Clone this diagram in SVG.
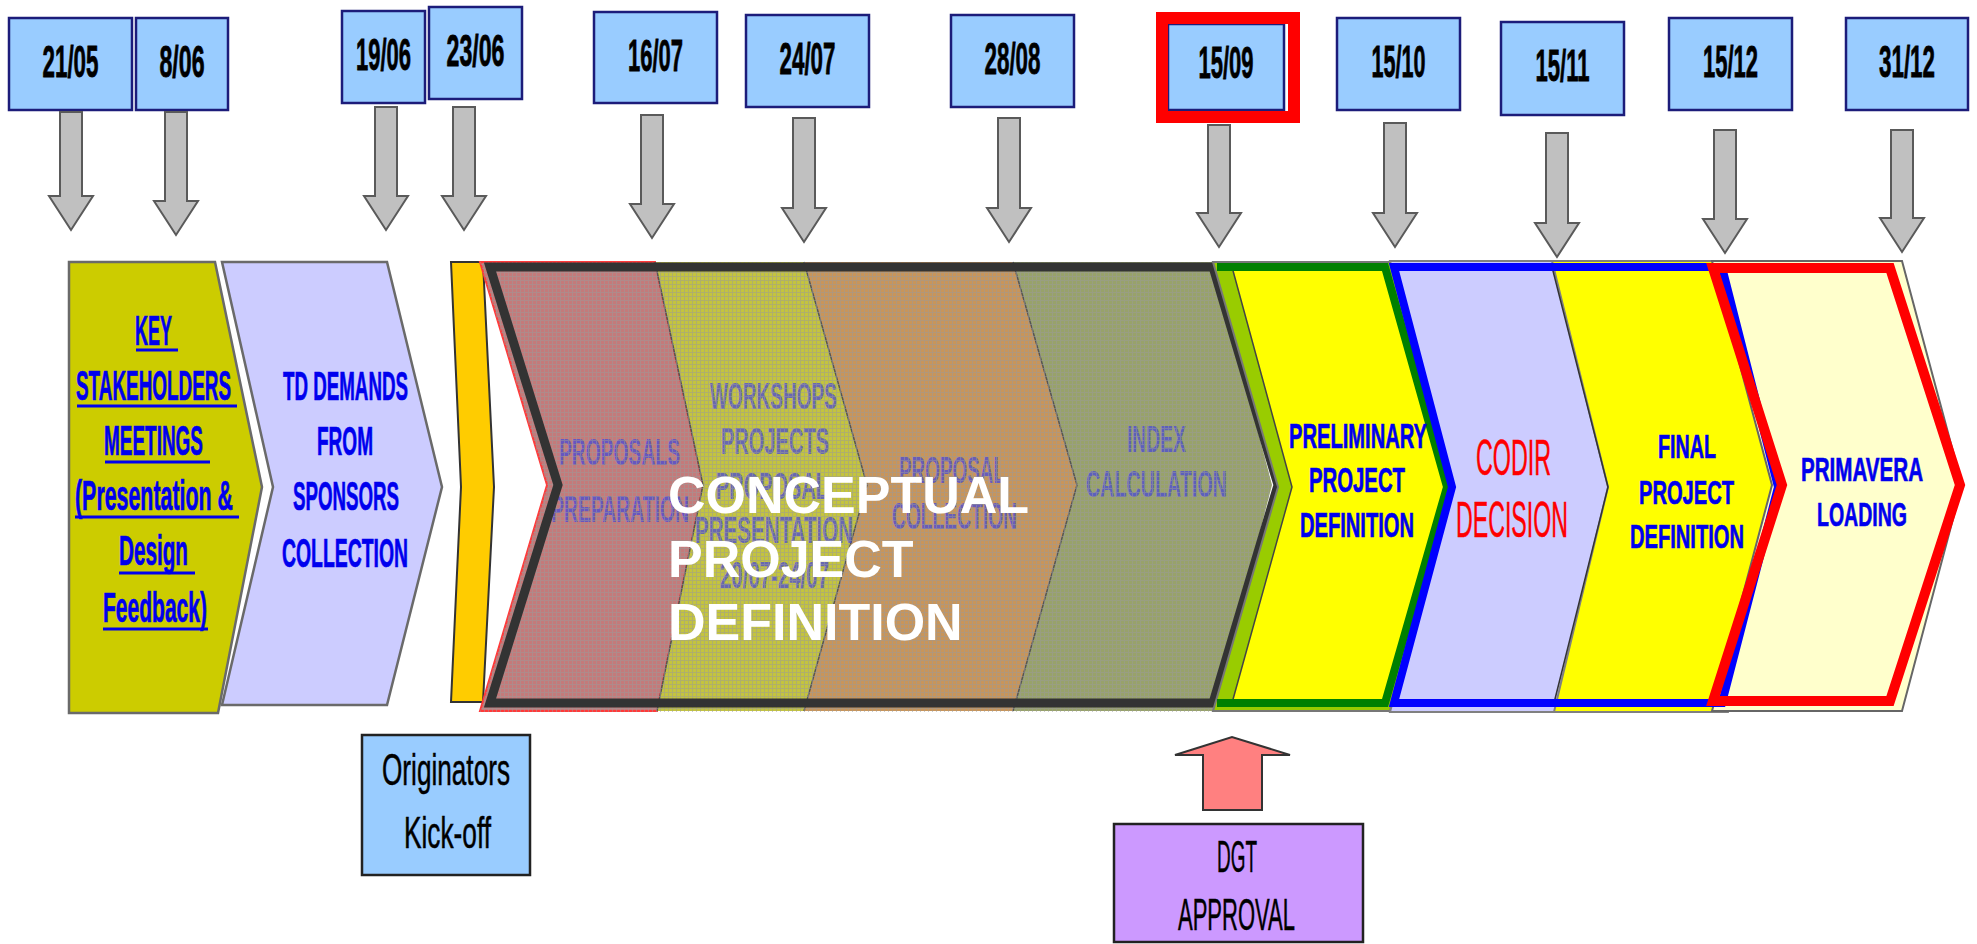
<svg xmlns="http://www.w3.org/2000/svg" width="1977" height="944" viewBox="0 0 1977 944">
  <defs>
    <style>
      .date rect { fill: #99ccff; stroke: #1c1c7a; stroke-width: 2.5; }
      .date text { font-family: "Liberation Sans", Arial, sans-serif; font-weight: bold; font-size: 45px; fill: #000; stroke: #000; stroke-width: 0.8; text-anchor: middle; }
      .blue { font-family: "Liberation Sans", Arial, sans-serif; font-weight: bold; fill: #0000ee; stroke: #0000ee; stroke-width: 0.7; }
      .faded { font-family: "Liberation Sans", Arial, sans-serif; font-weight: bold; font-size: 37px; fill: #4a4ad6; opacity: 0.75; }
      .plain { font-family: "Liberation Sans", Arial, sans-serif; fill: #000; stroke: #000; stroke-width: 0.5; }
      .big { font-family: "Liberation Sans", Arial, sans-serif; font-weight: bold; font-size: 52px; fill: #ffffff; }
      .ul { stroke: #0000ee; stroke-width: 3; }
      .garrow { fill: #c0c0c0; stroke: #5a5a5a; stroke-width: 2; stroke-linejoin: miter; }
      .edge { stroke: #555; stroke-width: 1.5; fill: none; }
    </style>
    <pattern id="grid" width="4" height="4" patternUnits="userSpaceOnUse">
      <path d="M0 0.5H4M0.5 0V4" stroke="#9a9a9a" stroke-width="1" opacity="0.5"/>
    </pattern>
    <clipPath id="cpdClip">
      <polygon points="480,262 1213,262 1272,485 1213,712 480,712 547,485"/>
    </clipPath>
  </defs>

  <rect width="1977" height="944" fill="#ffffff"/>

  <!-- milestone date boxes -->
  <g id="d2105" class="date"><rect x="9" y="18" width="123" height="92"/><text x="70.5" y="77" textLength="56" lengthAdjust="spacingAndGlyphs">21/05</text></g>
  <g id="d0806" class="date"><rect x="136" y="18" width="92" height="92"/><text x="182" y="77" textLength="45" lengthAdjust="spacingAndGlyphs">8/06</text></g>
  <g id="d1906" class="date"><rect x="342" y="11" width="83" height="92"/><text x="383.5" y="70" textLength="55" lengthAdjust="spacingAndGlyphs">19/06</text></g>
  <g id="d2306" class="date"><rect x="429" y="7" width="93" height="92"/><text x="475.5" y="66" textLength="58" lengthAdjust="spacingAndGlyphs">23/06</text></g>
  <g id="d1607" class="date"><rect x="594" y="12" width="123" height="91"/><text x="655.5" y="71" textLength="55" lengthAdjust="spacingAndGlyphs">16/07</text></g>
  <g id="d2407" class="date"><rect x="746" y="15" width="123" height="92"/><text x="807.5" y="74" textLength="56" lengthAdjust="spacingAndGlyphs">24/07</text></g>
  <g id="d2808" class="date"><rect x="951" y="15" width="123" height="92"/><text x="1012.5" y="74" textLength="56" lengthAdjust="spacingAndGlyphs">28/08</text></g>
  <g id="d1509" class="date">
    <rect x="1168" y="24" width="116" height="86"/>
    <rect x="1162" y="18" width="132" height="99" style="fill:none;stroke:#ff0000;stroke-width:12"/>
    <text x="1226" y="78" textLength="55" lengthAdjust="spacingAndGlyphs">15/09</text>
  </g>
  <g id="d1510" class="date"><rect x="1337" y="18" width="123" height="92"/><text x="1398.5" y="77" textLength="54" lengthAdjust="spacingAndGlyphs">15/10</text></g>
  <g id="d1511" class="date"><rect x="1501" y="22" width="123" height="93"/><text x="1562.5" y="81" textLength="54" lengthAdjust="spacingAndGlyphs">15/11</text></g>
  <g id="d1512" class="date"><rect x="1669" y="18" width="123" height="92"/><text x="1730.5" y="77" textLength="55" lengthAdjust="spacingAndGlyphs">15/12</text></g>
  <g id="d3112" class="date"><rect x="1846" y="18" width="122" height="92"/><text x="1907" y="77" textLength="56" lengthAdjust="spacingAndGlyphs">31/12</text></g>

  <!-- phase chevrons -->
  <g id="keyStakeholders">
    <polygon points="69,262 215,262 262,487 218,713 69,713" fill="#cccc00" stroke="#6a6a6a" stroke-width="2.5"/>
    <g class="blue" font-size="42">
      <text x="135" y="345" textLength="37" lengthAdjust="spacingAndGlyphs">KEY</text>
      <text x="76" y="400" textLength="155" lengthAdjust="spacingAndGlyphs">STAKEHOLDERS</text>
      <text x="104" y="455" textLength="99" lengthAdjust="spacingAndGlyphs">MEETINGS</text>
      <text x="75" y="510" textLength="158" lengthAdjust="spacingAndGlyphs">(Presentation &amp;</text>
      <text x="119" y="565" textLength="69" lengthAdjust="spacingAndGlyphs">Design</text>
      <text x="103" y="622" textLength="104" lengthAdjust="spacingAndGlyphs">Feedback)</text>
    </g>
    <path class="ul" d="M136 350H178M77 406H237M105 462H210M75 517H239M119 573H195M103 629H208"/>
  </g>

  <g id="tdDemands">
    <polygon points="222,262 387,262 442,487 387,705 222,705 273,487" fill="#ccccff" stroke="#6a6a6a" stroke-width="2.5"/>
    <g class="blue" font-size="40">
      <text x="283" y="400" textLength="125" lengthAdjust="spacingAndGlyphs">TD DEMANDS</text>
      <text x="317" y="455" textLength="56" lengthAdjust="spacingAndGlyphs">FROM</text>
      <text x="293" y="510" textLength="106" lengthAdjust="spacingAndGlyphs">SPONSORS</text>
      <text x="282" y="567" textLength="126" lengthAdjust="spacingAndGlyphs">COLLECTION</text>
    </g>
  </g>

  <g id="kickoffBar">
    <path d="M451 262H483L494 487L483 702H451L461 487Z" fill="#ffcc00" stroke="#333" stroke-width="2"/>
  </g>

  <g id="conceptualDefinition">
    <polygon points="480,262 655,262 703,485 657,711 480,711 547,485" fill="#c47a7a" stroke="#ff3a3a" stroke-width="2"/>
    <polygon points="655,262 804,262 867,485 804,711 657,711 703,485" fill="#c4c43e"/>
    <polygon points="804,262 1013,262 1077,485 1013,711 804,711 867,485" fill="#c8955a"/>
    <polygon points="1013,262 1213,262 1272,485 1213,711 1013,711 1077,485" fill="#98a26a"/>
    <path class="edge" d="M655 262L703 485L657 711M804 262L867 485L804 711M1013 262L1077 485L1013 711"/>
    <g class="faded">
      <text x="559" y="465" textLength="121" lengthAdjust="spacingAndGlyphs">PROPOSALS</text>
      <text x="551" y="522" textLength="138" lengthAdjust="spacingAndGlyphs">PREPARATION</text>
      <text x="710" y="409" textLength="127" lengthAdjust="spacingAndGlyphs">WORKSHOPS</text>
      <text x="721" y="454" textLength="108" lengthAdjust="spacingAndGlyphs">PROJECTS</text>
      <text x="716" y="499" textLength="112" lengthAdjust="spacingAndGlyphs">PROPOSAL</text>
      <text x="695" y="543" textLength="158" lengthAdjust="spacingAndGlyphs">PRESENTATION</text>
      <text x="720" y="588" textLength="109" lengthAdjust="spacingAndGlyphs">20/07-24/07</text>
      <text x="899" y="483" textLength="106" lengthAdjust="spacingAndGlyphs">PROPOSAL</text>
      <text x="892" y="529" textLength="125" lengthAdjust="spacingAndGlyphs">COLLECTION</text>
      <text x="1127" y="452" textLength="59" lengthAdjust="spacingAndGlyphs">INDEX</text>
      <text x="1086" y="497" textLength="141" lengthAdjust="spacingAndGlyphs">CALCULATION</text>
    </g>
    <g clip-path="url(#cpdClip)"><rect x="480" y="262" width="800" height="450" fill="url(#grid)"/></g>
    <polygon points="490,267 1213,267 1278,485 1213,703 490,703 558,485" fill="none" stroke="#333" stroke-width="9" stroke-linejoin="miter"/>
    <g class="big">
      <text x="668" y="513">CONCEPTUAL</text>
      <text x="668" y="577">PROJECT</text>
      <text x="668" y="640">DEFINITION</text>
    </g>
  </g>

  <g id="preliminaryDefinition">
    <polygon points="1213,262 1390,262 1450,487 1390,711 1213,711 1278,487" fill="#99cc00" stroke="#777" stroke-width="2"/>
    <polygon points="1232,267 1385,267 1447,487 1385,703 1232,703 1292,487" fill="#ffff00"/>
    <path d="M1232 267L1292 487L1232 703" fill="none" stroke="#444" stroke-width="1.5"/>
    <path d="M1217 267H1385L1447 487L1385 703H1217" fill="none" stroke="#008000" stroke-width="8"/>
    <g class="blue" font-size="35">
      <text x="1289" y="448" textLength="138" lengthAdjust="spacingAndGlyphs">PRELIMINARY</text>
      <text x="1309" y="492" textLength="96" lengthAdjust="spacingAndGlyphs">PROJECT</text>
      <text x="1300" y="537" textLength="114" lengthAdjust="spacingAndGlyphs">DEFINITION</text>
    </g>
  </g>

  <g id="codirDecision">
    <polygon points="1390,261 1556,261 1612,487 1556,712 1390,712 1450,487" fill="#ccccff" stroke="#808080" stroke-width="2"/>
    <polygon points="1394,267 1552,267 1608,487 1554,703 1394,703 1452,487" fill="#ccccff"/>
    <g class="plain" font-size="50" style="fill:#ff0000;stroke:#ff0000">
      <text x="1476" y="475" textLength="75" lengthAdjust="spacingAndGlyphs">CODIR</text>
      <text x="1456" y="537" textLength="112" lengthAdjust="spacingAndGlyphs">DECISION</text>
    </g>
  </g>

  <g id="finalDefinition">
    <polygon points="1552,261 1728,261 1784,487 1728,712 1554,712 1608,487" fill="#ffff00" stroke="#808080" stroke-width="2"/>
    <path d="M1552 267L1608 487L1554 703" fill="none" stroke="#333" stroke-width="1.5"/>
    <g class="blue" font-size="34">
      <text x="1658" y="458" textLength="58" lengthAdjust="spacingAndGlyphs">FINAL</text>
      <text x="1639" y="504" textLength="95" lengthAdjust="spacingAndGlyphs">PROJECT</text>
      <text x="1630" y="548" textLength="114" lengthAdjust="spacingAndGlyphs">DEFINITION</text>
    </g>
  </g>

  <g id="primaveraLoading">
    <polygon points="1712,261 1902,261 1962,485 1902,711 1712,711 1772,485" fill="#ffffcc" stroke="#666" stroke-width="2"/>
    <polygon points="1713,268 1890,268 1960,485 1890,701 1713,701 1782,485" fill="#ffffcc"/>
  </g>

  <!-- group outlines drawn over the fills -->
  <g id="decisionFrame">
    <polygon points="1394,267 1722,267 1778,487 1722,703 1394,703 1452,487" fill="none" stroke="#0000ff" stroke-width="8"/>
  </g>
  <g id="loadingFrame">
    <polygon points="1713,268 1890,268 1960,485 1890,701 1713,701 1782,485" fill="none" stroke="#ff0000" stroke-width="10"/>
    <g class="blue" font-size="34">
      <text x="1801" y="481" textLength="122" lengthAdjust="spacingAndGlyphs">PRIMAVERA</text>
      <text x="1817" y="526" textLength="90" lengthAdjust="spacingAndGlyphs">LOADING</text>
    </g>
  </g>

  <!-- bottom notes -->
  <g id="originatorsKickoff">
    <rect x="362" y="735" width="168" height="140" fill="#99ccff" stroke="#222" stroke-width="2.5"/>
    <g class="plain" font-size="44">
      <text x="382" y="785" textLength="128" lengthAdjust="spacingAndGlyphs">Originators</text>
      <text x="404" y="848" textLength="87" lengthAdjust="spacingAndGlyphs">Kick-off</text>
    </g>
  </g>

  <g id="dgtApproval">
    <rect x="1114" y="824" width="249" height="118" fill="#cc99ff" stroke="#222" stroke-width="2.5"/>
    <g class="plain" font-size="44">
      <text x="1217" y="872" textLength="40" lengthAdjust="spacingAndGlyphs">DGT</text>
      <text x="1178" y="930" textLength="117" lengthAdjust="spacingAndGlyphs">APPROVAL</text>
    </g>
  </g>

  <!-- connectors: milestone arrows and approval arrow -->
  <g id="connectors">
    <path class="garrow" d="M60 112H82V196H93L71 230L49 196H60Z"/>
    <path class="garrow" d="M165 112H187V201H198L176 235L154 201H165Z"/>
    <path class="garrow" d="M375 107H397V196H408L386 230L364 196H375Z"/>
    <path class="garrow" d="M453 107H475V196H486L464 230L442 196H453Z"/>
    <path class="garrow" d="M641 115H663V204H674L652 238L630 204H641Z"/>
    <path class="garrow" d="M793 118H815V208H826L804 242L782 208H793Z"/>
    <path class="garrow" d="M998 118H1020V208H1031L1009 242L987 208H998Z"/>
    <path class="garrow" d="M1208 125H1230V213H1241L1219 247L1197 213H1208Z"/>
    <path class="garrow" d="M1384 123H1406V213H1417L1395 247L1373 213H1384Z"/>
    <path class="garrow" d="M1546 133H1568V223H1579L1557 257L1535 223H1546Z"/>
    <path class="garrow" d="M1714 130H1736V219H1747L1725 253L1703 219H1714Z"/>
    <path class="garrow" d="M1891 130H1913V218H1924L1902 252L1880 218H1891Z"/>
    <path d="M1203 810V755H1175L1232 737L1290 755H1262V810Z" fill="#ff8080" stroke="#333" stroke-width="2"/>
  </g>
</svg>
